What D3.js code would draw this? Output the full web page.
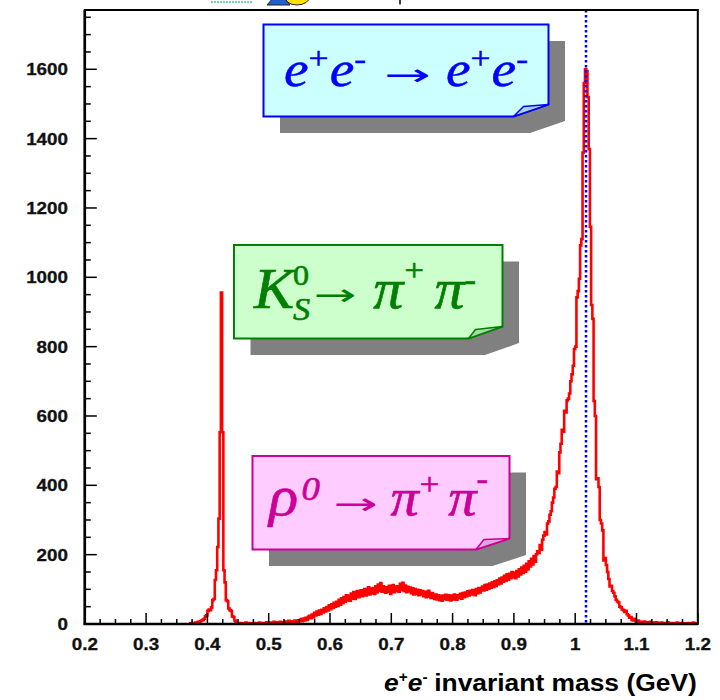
<!DOCTYPE html>
<html>
<head>
<meta charset="utf-8">
<script src="https://cdn.jsdelivr.net/npm/d3@7"></script>
<style>
  html, body { margin: 0; padding: 0; background: #fff; }
  svg { display: block; }
</style>
</head>
<body>
<svg id="chart" width="720" height="700"></svg>
<script>
// ---- histogram: e+e- invariant mass, 2 MeV bins ----
const binWidth = 0.002;
const firstEdge = 0.370;

// 0.370 - 0.448 GeV (K0S -> pi+ pi- reflection)
const ksCounts = [
  0, 2, 0, 3, 2, 4, 3, 6, 5, 8,
  10, 12, 15, 22, 25, 38, 42, 40, 48, 69,
  72, 127, 155, 222, 304, 553, 956, 553, 155, 120,
  69, 66, 45, 40, 38, 22, 20, 10, 6, 3
];

// 0.450 - 0.898 GeV (rho0 -> pi+ pi- continuum)
const continuumCounts = [
  2, 0, 3, 1, 0, 2, 4, 1, 0, 3,
  2, 1, 0, 3, 2, 0, 1, 4, 2, 0,
  3, 1, 2, 5, 3, 2, 4, 1, 3, 6,
  4, 2, 5, 3, 6, 4, 2, 5, 7, 3,
  5, 9, 3, 7, 3, 8, 10, 4, 7, 11,
  8, 14, 8, 16, 10, 18, 12, 21, 24, 17,
  27, 19, 32, 25, 36, 27, 39, 29, 41, 33,
  45, 36, 49, 39, 54, 43, 57, 46, 61, 50,
  64, 52, 70, 56, 74, 60, 78, 64, 83, 69,
  82, 67, 88, 73, 92, 72, 86, 95, 77, 90,
  97, 80, 92, 101, 82, 98, 106, 85, 102, 88,
  104, 87, 109, 92, 114, 96, 118, 93, 109, 97,
  90, 106, 93, 110, 87, 104, 112, 92, 108, 95,
  109, 93, 116, 98, 119, 95, 111, 92, 107, 94,
  105, 89, 103, 85, 101, 87, 99, 83, 97, 85,
  95, 80, 93, 77, 90, 96, 79, 75, 89, 77,
  72, 85, 71, 83, 69, 81, 67, 82, 72, 84,
  70, 83, 73, 68, 82, 71, 85, 73, 70, 83,
  75, 87, 73, 89, 77, 91, 80, 94, 82, 96,
  85, 98, 87, 83, 101, 89, 104, 91, 102, 108,
  97, 112, 99, 114, 102, 117, 105, 120, 107, 123,
  110, 126, 115, 131, 117, 134, 122, 139, 125, 143,
  128, 145, 132, 150, 135
];

// 0.900 - 1.198 GeV (phi region, e+e- -> e+e-)
const phiCounts = [
  148, 132, 153, 137, 158, 143, 163, 147, 168, 151,
  174, 157, 181, 166, 188, 172, 196, 180, 201, 210,
  205, 228, 214, 243, 255, 265, 258, 290, 296, 315,
  325, 350, 365, 390, 395, 440, 435, 495, 520, 560,
  555, 615, 610, 645, 650, 665, 700, 720, 745, 793,
  800, 942, 960, 996, 1092, 1110, 1360, 1560, 1600, 1595,
  1520, 1370, 1146, 920, 880, 643, 600, 418, 420, 395,
  300, 290, 270, 183, 190, 170, 150, 130, 108, 110,
  95, 90, 80, 70, 65, 62, 50, 48, 42, 40,
  35, 38, 28, 25, 18, 20, 12, 10, 15, 8,
  5, 10, 3, 6, 2, 4, 7, 3, 1, 5,
  3, 6, 2, 0, 4, 1, 5, 3, 0, 2,
  4, 1, 3, 0, 2, 5, 1, 0, 3, 2,
  0, 3, 1, 4, 2, 0, 1, 3, 0, 2,
  1, 0, 3, 2, 0, 1, 4, 0, 2, 1
];

// phi mass marker
const phiMass = 1.0175;

// axis ticks and labels
const xTickValues = [0.2, 0.3, 0.4, 0.5, 0.6, 0.7, 0.8, 0.9, 1.0, 1.1, 1.2];
const xTickLabels = ["0.2", "0.3", "0.4", "0.5", "0.6", "0.7", "0.8", "0.9", "1", "1.1", "1.2"];
const yTickValues = [0, 200, 400, 600, 800, 1000, 1200, 1400, 1600];
const yTickLabels = ["0", "200", "400", "600", "800", "1000", "1200", "1400", "1600"];

// ---- layout ----
const frame = { left: 84.8, right: 697.8, top: 10, bottom: 624 };
const x = d3.scaleLinear().domain([0.2, 1.2]).range([frame.left, frame.right]);
const y = d3.scaleLinear().domain([0, 1771]).range([frame.bottom, frame.top]);

const svg = d3.select("#chart");
const sans = "'Liberation Sans', Arial, Helvetica, sans-serif";
const serif = "'Liberation Serif', 'Times New Roman', serif";
const arrowFont = "'DejaVu Sans', sans-serif";
const stretch = 1.14;

// logo fragments peeking in at the top edge
const logo = svg.append("g");
d3.range(212, 254, 3).forEach(px => {
  logo.append("circle").attr("cx", px).attr("cy", 2).attr("r", 1.2).attr("fill", "#7ccfae");
});
logo.append("ellipse").attr("cx", 297).attr("cy", -4).attr("rx", 13).attr("ry", 9)
  .attr("fill", "#ffe000").attr("stroke", "#222").attr("stroke-width", 1);
logo.append("polygon").attr("points", "267,5 279,-9 290,5")
  .attr("fill", "#1f5fd0").attr("stroke", "#222").attr("stroke-width", 1);
logo.append("line").attr("x1", 400).attr("x2", 400).attr("y1", 0).attr("y2", 4.5)
  .attr("stroke", "#000").attr("stroke-width", 1.5);

// plot area
svg.append("rect")
  .attr("x", frame.left).attr("y", frame.top)
  .attr("width", frame.right - frame.left).attr("height", frame.bottom - frame.top)
  .attr("fill", "#fff");

svg.append("clipPath").attr("id", "plotClip").append("rect")
  .attr("x", frame.left).attr("y", frame.top)
  .attr("width", frame.right - frame.left).attr("height", frame.bottom - frame.top);

// histogram as a step line
const counts = ksCounts.concat(continuumCounts, phiCounts);
const steps = counts.map((c, i) => [firstEdge + i * binWidth, c]);
steps.push([firstEdge + counts.length * binWidth, counts[counts.length - 1]]);

svg.append("path")
  .datum(steps)
  .attr("clip-path", "url(#plotClip)")
  .attr("d", d3.line().x(d => x(d[0])).y(d => y(d[1])).curve(d3.curveStepAfter))
  .attr("fill", "none")
  .attr("stroke", "#ff0000")
  .attr("stroke-width", 2.6);

// phi mass line
const phiX = Math.round(x(phiMass));
svg.append("line")
  .attr("x1", phiX).attr("x2", phiX)
  .attr("y1", y(y.domain()[1])).attr("y2", y(0))
  .attr("stroke", "#0000ff").attr("stroke-width", 2.5)
  .attr("stroke-dasharray", "2.5,2.5");

// ---- sticky-note labels ----
function drawNote(b) {
  const shape = [[b.L, b.T], [b.R, b.T], [b.R, b.B - b.ch], [b.R - b.cw, b.B], [b.L, b.B]];
  const off = 16.5;
  const pts = arr => arr.map(p => p.join(",")).join(" ");
  svg.append("polygon")
    .attr("points", pts(shape.map(p => [p[0] + off, p[1] + off])))
    .attr("fill", "#808080");
  svg.append("polygon")
    .attr("points", pts(shape))
    .attr("fill", b.fill).attr("stroke", b.stroke).attr("stroke-width", 2)
    .attr("stroke-linejoin", "miter");
  const fold = [[b.R - b.cw, b.B], [b.R - b.cw + b.fx, b.B - b.fy], [b.R, b.B - b.ch]];
  svg.append("polygon")
    .attr("points", pts(fold))
    .attr("fill", b.foldFill).attr("stroke", b.stroke).attr("stroke-width", 1.5)
    .attr("stroke-linejoin", "round");
}

// Lays the pieces of a formula out left to right, then stretches the
// whole run to span [left, right] on the given baseline.
function drawFormula(spec) {
  const g = svg.append("g");
  let cursor = 0, lastX = 0;
  spec.parts.forEach(p => {
    const t = g.append("text").text(p.t)
      .attr("font-family", p.family || spec.family || serif)
      .attr("font-size", p.size)
      .attr("font-style", p.italic ? "italic" : "normal")
      .attr("font-weight", p.bold ? "bold" : "normal")
      .attr("fill", spec.color);
    if (spec.weight && !p.thin) t.attr("stroke", spec.color).attr("stroke-width", spec.weight);
    let w0 = t.node().getComputedTextLength();
    let inkX = 0;
    if (p.w) {
      // size glyphs such as arrows by their drawn extent
      const bb = t.node().getBBox();
      w0 = bb.width;
      inkX = bb.x;
    }
    const psx = p.w ? p.w / w0 : 1;
    const x0 = p.stack ? lastX : cursor + (p.gap || 0);
    t.attr("transform", `translate(${x0 - inkX * psx},${p.base || 0}) scale(${psx},1)`);
    const end = x0 + w0 * psx;
    cursor = p.stack ? Math.max(cursor, end) : end;
    lastX = x0;
  });
  const sx = (spec.right - spec.left) / cursor;
  g.attr("transform", `translate(${spec.left},${spec.baseline}) scale(${sx},1)`);
}

// e+e- -> e+e-
drawNote({ L: 263.5, T: 24.5, R: 548.5, B: 116.5, cw: 35, ch: 12, fx: 10, fy: 10,
  fill: "#ccffff", stroke: "#0000ff", foldFill: "#a9d6e4" });
drawFormula({ color: "#0000ff", left: 284, right: 528, baseline: 86, weight: 0.5,
  parts: [
    { t: "e", size: 50, italic: true },
    { t: "+", size: 32, base: -17 },
    { t: "e", size: 50, italic: true, gap: 1 },
    { t: "-", size: 32, base: -17 },
    { t: "\u2192", size: 30, family: arrowFont, w: 42, gap: 16, base: -1, thin: true },
    { t: "e", size: 50, italic: true, gap: 14 },
    { t: "+", size: 32, base: -17 },
    { t: "e", size: 50, italic: true, gap: 1 },
    { t: "-", size: 32, base: -17 }
  ] });

// K0S -> pi+ pi-
drawNote({ L: 234, T: 245, R: 502.5, B: 338.5, cw: 34, ch: 12, fx: 7, fy: 9,
  fill: "#ccffcc", stroke: "#008000", foldFill: "#a8d8a8" });
drawFormula({ color: "#008000", left: 254, right: 476, baseline: 307.7, weight: 0.6,
  parts: [
    { t: "K", size: 56, italic: true },
    { t: "0", size: 30, base: -22.7, gap: -1 },
    { t: "S", size: 32, italic: true, base: 12, stack: true },
    { t: "\u2192", size: 30, family: arrowFont, w: 40, gap: 3, base: -3, thin: true },
    { t: "\u03c0", size: 56, italic: true, gap: 16 },
    { t: "+", size: 32, base: -27, gap: 1 },
    { t: "\u03c0", size: 56, italic: true, gap: 10 },
    { t: "-", size: 32, base: -18 }
  ] });

// rho0 -> pi+ pi-
drawNote({ L: 252.5, T: 456, R: 509.5, B: 549.5, cw: 33.5, ch: 11, fx: 8, fy: 10,
  fill: "#ffccff", stroke: "#cc0099", foldFill: "#e3a6dc" });
drawFormula({ color: "#cc0099", left: 269, right: 488, baseline: 515, weight: 0.6,
  parts: [
    { t: "\u03c1", size: 56, italic: true },
    { t: "0", size: 34, italic: true, base: -15, gap: 3 },
    { t: "\u2192", size: 30, family: arrowFont, w: 41, gap: 12, base: -1, thin: true },
    { t: "\u03c0", size: 52, italic: true, gap: 12 },
    { t: "+", size: 32, base: -20, gap: 1 },
    { t: "\u03c0", size: 52, italic: true, gap: 8 },
    { t: "-", size: 32, base: -26 }
  ] });

// ---- axes ----
const axes = svg.append("g");
axes.append("rect")
  .attr("x", frame.left).attr("y", frame.top)
  .attr("width", frame.right - frame.left).attr("height", frame.bottom - frame.top)
  .attr("fill", "none").attr("stroke", "#000").attr("stroke-width", 2);
axes.append("line").attr("x1", frame.left).attr("x2", frame.left)
  .attr("y1", frame.top).attr("y2", frame.bottom + 1).attr("stroke", "#000").attr("stroke-width", 2.6);
axes.append("line").attr("x1", frame.left - 1).attr("x2", frame.right)
  .attr("y1", frame.bottom).attr("y2", frame.bottom).attr("stroke", "#000").attr("stroke-width", 2.6);

// y ticks (inside, pointing right)
const yMinor = d3.range(0, y.domain()[1], 50);
yMinor.forEach(v => {
  const major = v % 200 === 0;
  axes.append("line")
    .attr("x1", frame.left).attr("x2", frame.left + (major ? 12 : 6))
    .attr("y1", y(v)).attr("y2", y(v))
    .attr("stroke", "#000").attr("stroke-width", 1.5);
});
// x ticks (inside, pointing up)
const xMinor = d3.range(0, 41).map(i => 0.2 + i * 0.025);
xMinor.forEach((v, i) => {
  const major = i % 4 === 0;
  axes.append("line")
    .attr("x1", x(v)).attr("x2", x(v))
    .attr("y1", frame.bottom).attr("y2", frame.bottom - (major ? 11 : 5))
    .attr("stroke", "#000").attr("stroke-width", 1.5);
});

// tick labels
yTickValues.forEach((v, i) => {
  axes.append("text")
    .attr("transform", `translate(68,${y(v) + 6}) scale(${stretch},1)`)
    .attr("text-anchor", "end")
    .attr("font-family", sans).attr("font-weight", "bold").attr("font-size", 16.5)
    .attr("fill", "#111").attr("stroke", "#111").attr("stroke-width", 0.3)
    .text(yTickLabels[i]);
});
xTickValues.forEach((v, i) => {
  axes.append("text")
    .attr("transform", `translate(${x(v)},649.5) scale(${stretch},1)`)
    .attr("text-anchor", "middle")
    .attr("font-family", sans).attr("font-weight", "bold").attr("font-size", 16.5)
    .attr("fill", "#111").attr("stroke", "#111").attr("stroke-width", 0.3)
    .text(xTickLabels[i]);
});

// axis title
drawFormula({ color: "#000", family: sans, left: 384, right: 697, baseline: 691,
  parts: [
    { t: "e", size: 24, italic: true, bold: true },
    { t: "+", size: 14, bold: true, base: -9 },
    { t: "e", size: 24, italic: true, bold: true },
    { t: "-", size: 14, bold: true, base: -9 },
    { t: "invariant mass (GeV)", size: 24, bold: true, gap: 6 }
  ] });
</script>
</body>
</html>
